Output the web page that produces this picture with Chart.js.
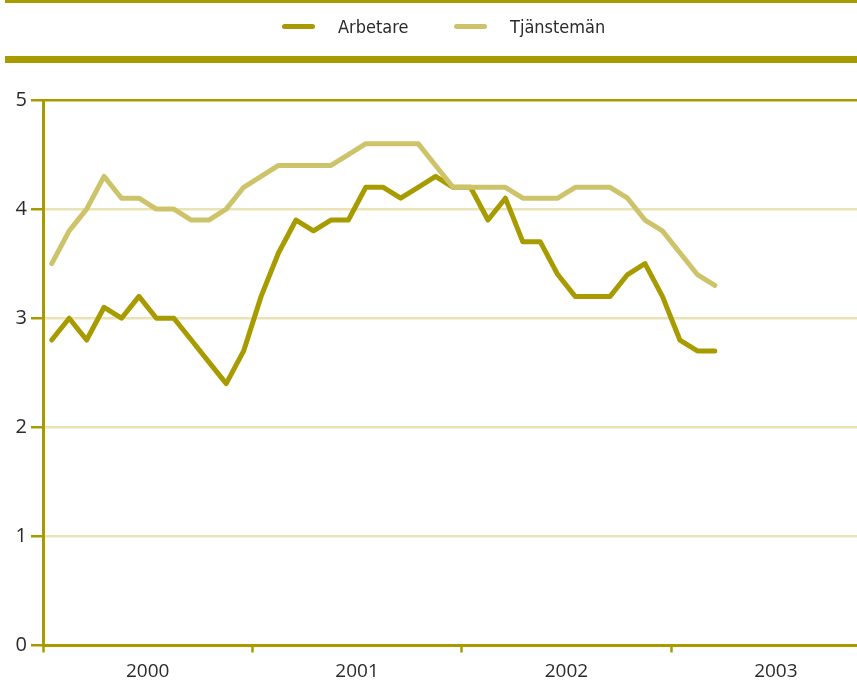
<!DOCTYPE html>
<html>
<head>
<meta charset="utf-8">
<script src="https://cdn.jsdelivr.net/npm/chart.js@4/dist/chart.umd.min.js"></script>
<style>
  html, body { margin: 0; padding: 0; background: #fff; }
  #wrap { position: relative; width: 857px; height: 682px; overflow: hidden; }
  #chart { position: absolute; left: 0; top: 0; }
  .bar { position: absolute; left: 5px; right: 0; background: #a89b00; }
  #barTop { top: 0; height: 3px; }
  #barMid { top: 56px; height: 7px; }
  .swatch { position: absolute; top: 24px; width: 33px; height: 5px; border-radius: 3px; }
  .ltext { position: absolute; top: 15px; font-family: "DejaVu Sans", sans-serif; font-stretch: condensed; font-size: 18px; color: #2b2b2b; line-height: 24px; }
</style>
</head>
<body>
<div id="wrap">
  <canvas id="chart" width="857" height="682"></canvas>
  <div class="bar" id="barTop"></div>
  <div class="bar" id="barMid"></div>
  <div class="swatch" style="left:282px;background:#a89b00"></div>
  <div class="ltext" style="left:338px">Arbetare</div>
  <div class="swatch" style="left:454px;background:#cdc36a"></div>
  <div class="ltext" style="left:510px">Tjänstemän</div>
</div>
<script>
// --- Data (monthly, Jan 2000 - Mar 2003) ---
const years = ['2000', '2001', '2002', '2003'];
const arbetare = [2.8, 3.0, 2.8, 3.1, 3.0, 3.2, 3.0, 3.0, 2.8, 2.6, 2.4, 2.7,
                  3.2, 3.6, 3.9, 3.8, 3.9, 3.9, 4.2, 4.2, 4.1, 4.2, 4.3, 4.2,
                  4.2, 3.9, 4.1, 3.7, 3.7, 3.4, 3.2, 3.2, 3.2, 3.4, 3.5, 3.2,
                  2.8, 2.7, 2.7];
const tjansteman = [3.5, 3.8, 4.0, 4.3, 4.1, 4.1, 4.0, 4.0, 3.9, 3.9, 4.0, 4.2,
                    4.3, 4.4, 4.4, 4.4, 4.4, 4.5, 4.6, 4.6, 4.6, 4.6, 4.4, 4.2,
                    4.2, 4.2, 4.2, 4.1, 4.1, 4.1, 4.2, 4.2, 4.2, 4.1, 3.9, 3.8,
                    3.6, 3.4, 3.3];
const yTicks = [0, 1, 2, 3, 4, 5];

const olive = '#a89b00';
const olivePale = '#cdc36a';
const gridPale = '#e9e3b5';

// months sit in the middle of their slot
const toPoints = arr => arr.map((v, i) => ({ x: i + 0.5, y: v }));

const ctx = document.getElementById('chart').getContext('2d');
new Chart(ctx, {
    type: 'line',
    data: {
        datasets: [
            { label: 'Tjänstemän', data: toPoints(tjansteman), borderColor: olivePale, borderWidth: 5 },
            { label: 'Arbetare', data: toPoints(arbetare), borderColor: olive, borderWidth: 5 }
        ]
    },
    options: {
        responsive: false,
        animation: false,
        layout: { padding: { top: 100, left: 0, right: 0, bottom: 0 } },
        elements: {
            point: { radius: 0 },
            line: { tension: 0, borderCapStyle: 'round', borderJoinStyle: 'round', fill: false }
        },
        plugins: { legend: { display: false }, tooltip: { enabled: false } },
        scales: {
            x: {
                type: 'linear',
                min: 0,
                max: 46.65,
                afterFit: s => { s.height = 36.5; },
                afterBuildTicks: s => { s.ticks = [0, 6, 12, 18, 24, 30, 36, 42].map(v => ({ value: v })); },
                border: { color: olive, width: 3 },
                grid: {
                    drawOnChartArea: false,
                    drawTicks: true,
                    tickLength: 7,
                    tickWidth: 2.5,
                    tickColor: c => (c.tick && c.tick.value % 12 === 0) ? olive : 'rgba(0,0,0,0)'
                },
                ticks: {
                    autoSkip: false,
                    maxRotation: 0,
                    padding: 8,
                    color: '#2b2b2b',
                    font: { family: 'Open Sans', size: 19 },
                    callback: v => (v % 12 === 6) ? years[Math.floor(v / 12)] : ''
                }
            },
            y: {
                min: 0,
                max: 5,
                afterFit: s => { s.width = 43; },
                afterBuildTicks: s => { s.ticks = yTicks.map(v => ({ value: v })); },
                border: { color: olive, width: 3 },
                grid: {
                    color: c => c.tick.value === 5 ? olive : (c.tick.value === 0 ? 'rgba(0,0,0,0)' : gridPale),
                    lineWidth: 2.5,
                    tickLength: 12,
                    tickWidth: 2.5,
                    tickColor: olive
                },
                ticks: {
                    padding: 4,
                    color: '#2b2b2b',
                    font: { family: 'Open Sans', size: 20 }
                }
            }
        }
    }
});
</script>
</body>
</html>
